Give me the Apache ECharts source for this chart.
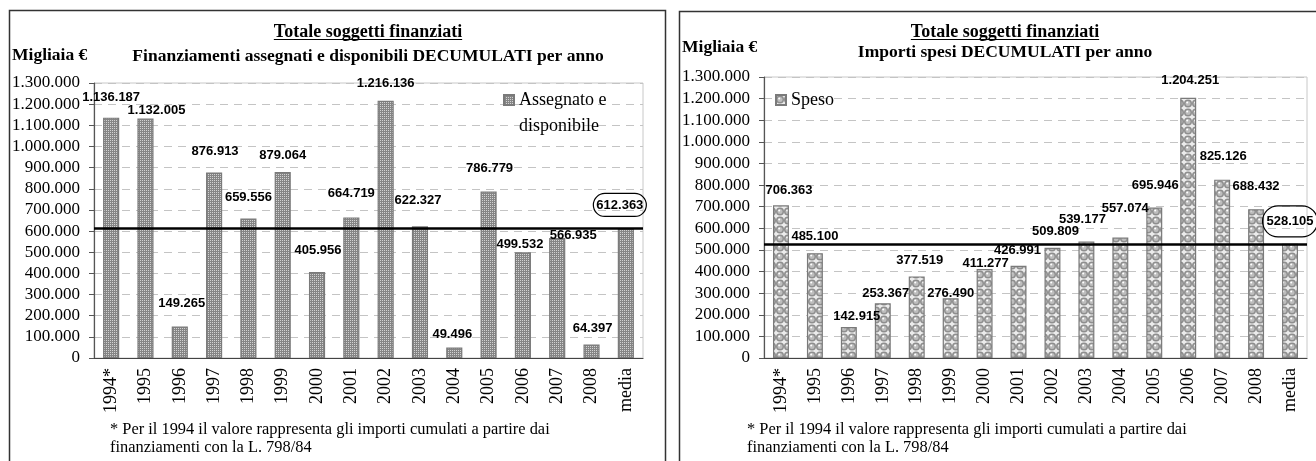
<!DOCTYPE html>
<html>
<head>
<meta charset="utf-8">
<script src="https://cdn.jsdelivr.net/npm/echarts@6/dist/echarts.min.js"></script>
<style>
  html, body { margin: 0; padding: 0; background: #fff; }
  #chart { width: 1316px; height: 461px; }
</style>
</head>
<body>
<div id="chart"></div>
<script>
const categories = ['1994*', '1995', '1996', '1997', '1998', '1999', '2000', '2001', '2002', '2003', '2004', '2005', '2006', '2007', '2008', 'media']
const assegnato = [1136187, 1132005, 149265, 876913, 659556, 879064, 405956, 664719, 1216136, 622327, 49496, 786779, 499532, 566935, 64397, 612363]
const speso = [706363, 485100, 142915, 253367, 377519, 276490, 411277, 426991, 509809, 539177, 557074, 695946, 1204251, 825126, 688432, 528105]
const yMax = 1300000
const yStep = 100000

const serif = "'Liberation Serif', 'Times New Roman', serif"
const sans = "'Liberation Sans', Arial, sans-serif"

// hand-placed data labels, as in the original sheet
const leftNudge = {
  '1995': [11, 12], '1996': [2, -3], '1997': [1, -1], '1998': [0, -1], '1999': [0, 4],
  '2000': [1, -1], '2001': [0, -3], '2002': [0, 3], '2003': [-2, -5], '2004': [-2, 7],
  '2005': [1, -3], '2006': [-3, 13], '2007': [16, 18], '2008': [1, 5], 'media': [-6, 2],
}
const rightNudge = {
  '1994*': [8, 6], '1995': [0, 4], '1996': [8, 10], '1997': [3, 11], '1998': [3, 5],
  '1999': [0, 16], '2000': [1, 15], '2001': [-1, 5], '2002': [3, 4], '2003': [-4, -2],
  '2004': [5, -9], '2005': [1, -2], '2006': [2, 3], '2007': [1, -3], '2008': [0, -2], 'media': [0, 7],
}

function fmt(v) {
  return String(v).replace(/\B(?=(\d{3})+(?!\d))/g, '.')
}

function dotPattern() {
  const c = document.createElement('canvas')
  c.width = 2
  c.height = 2
  const g = c.getContext('2d')
  g.fillStyle = '#858585'
  g.fillRect(0, 0, 2, 2)
  g.fillStyle = '#d2d2d2'
  g.fillRect(0, 0, 1, 1)
  return c
}

function bubblePattern() {
  const c = document.createElement('canvas')
  c.width = 8
  c.height = 9
  const g = c.getContext('2d')
  g.fillStyle = '#ececec'
  g.fillRect(0, 0, 8, 9)
  g.fillStyle = '#8e8e8e'
  g.beginPath(); g.arc(4, 4.5, 4, 0, Math.PI * 2); g.fill()
  g.fillStyle = '#bdbdbd'
  g.beginPath(); g.arc(4, 4.5, 2.5, 0, Math.PI * 2); g.fill()
  g.fillStyle = '#ffffff'
  g.beginPath(); g.arc(3.2, 3.6, 1, 0, Math.PI * 2); g.fill()
  return c
}

function textWidth(font, text) {
  const g = document.createElement('canvas').getContext('2d')
  g.font = font
  return g.measureText(text).width
}

function barData(values, nudge, ring) {
  return values.map((v, i) => {
    const cat = categories[i]
    const label = { offset: nudge[cat] || [0, 0] }
    if (cat === 'media') {
      Object.assign(label, { borderColor: '#000', borderWidth: 1.2, borderRadius: 16, padding: ring })
    }
    return { value: v, label }
  })
}

function xAxis(gridIndex) {
  return {
    type: 'category',
    gridIndex,
    data: categories,
    axisLine: { lineStyle: { color: '#444', width: 1.2 } },
    axisTick: { length: 7, lineStyle: { color: '#444' } },
    axisLabel: { rotate: 90, interval: 0, margin: 10, color: '#000', fontFamily: serif, fontSize: 18 },
  }
}

function yAxis(gridIndex) {
  return {
    type: 'value',
    gridIndex,
    min: 0,
    max: yMax,
    interval: yStep,
    axisLine: { show: true, lineStyle: { color: '#555', width: 1.2 } },
    axisTick: { show: true, length: 5, lineStyle: { color: '#555' } },
    axisLabel: { margin: 14, color: '#000', fontFamily: serif, fontSize: 17, formatter: fmt },
    splitLine: { lineStyle: { color: '#c4c4c4', type: [8, 6] } },
  }
}

function barSeries(name, idx, values, nudge, fill, ring) {
  return {
    name,
    type: 'bar',
    xAxisIndex: idx,
    yAxisIndex: idx,
    barWidth: '47%',
    itemStyle: { color: { image: fill, repeat: 'repeat' }, borderColor: '#7a7a7a', borderWidth: 1.2 },
    label: {
      show: true,
      position: 'top',
      distance: 14,
      color: '#000',
      fontFamily: sans,
      fontWeight: 'bold',
      fontSize: 13,
      formatter: (p) => fmt(p.value),
    },
    markLine: {
      silent: true,
      symbol: 'none',
      label: { show: false },
      lineStyle: { color: '#000', width: 2.5, type: 'solid' },
      data: [{ yAxis: values[values.length - 1] }],
    },
    data: barData(values, nudge, ring),
  }
}

const titleFont = 'bold 18px ' + serif
const subFont = 'bold 17.5px ' + serif
const noteFont = '16.4px ' + serif
const titleText = 'Totale soggetti finanziati'
const titleW = textWidth(titleFont, titleText)

function panelText(cx, sub, migX, migY, subY, noteX) {
  return [
    { type: 'text', left: cx - titleW / 2, top: 23, style: { text: titleText, font: titleFont, fill: '#000' } },
    { type: 'line', shape: { x1: cx - titleW / 2, y1: 39.5, x2: cx + titleW / 2, y2: 39.5 }, style: { stroke: '#000', lineWidth: 1 } },
    { type: 'text', left: cx - textWidth(subFont, sub) / 2, top: subY, style: { text: sub, font: subFont, fill: '#000' } },
    { type: 'text', left: migX, top: migY, style: { text: 'Migliaia €', font: subFont, fill: '#000' } },
    { type: 'text', left: noteX, top: 422, style: { text: '* Per il 1994 il valore rappresenta gli importi cumulati a partire dai', font: noteFont, fill: '#000' } },
    { type: 'text', left: noteX, top: 440, style: { text: 'finanziamenti con la L. 798/84', font: noteFont, fill: '#000' } },
  ]
}

const chart = echarts.init(document.getElementById('chart'))

chart.setOption({
  animation: false,
  grid: [
    { left: 94, top: 83, width: 549, height: 275, show: true, borderColor: '#c8c8c8', borderWidth: 1 },
    { left: 764, top: 77, width: 543, height: 281, show: true, borderColor: '#c8c8c8', borderWidth: 1 },
  ],
  xAxis: [xAxis(0), xAxis(1)],
  yAxis: [yAxis(0), yAxis(1)],
  legend: [
    {
      data: ['Assegnato e disponibile'],
      left: 498,
      top: 56,
      icon: 'rect',
      itemWidth: 10,
      itemHeight: 10,
      formatter: () => '\nAssegnato e\ndisponibile',
      textStyle: { fontFamily: serif, fontSize: 18, lineHeight: 26, color: '#000' },
    },
    {
      data: ['Speso'],
      left: 770,
      top: 86,
      icon: 'rect',
      itemWidth: 10,
      itemHeight: 10,
      textStyle: { fontFamily: serif, fontSize: 18, color: '#000' },
    },
  ],
  series: [
    barSeries('Assegnato e disponibile', 0, assegnato, leftNudge, dotPattern(), [5, 3]),
    barSeries('Speso', 1, speso, rightNudge, bubblePattern(), [9, 4]),
  ],
  graphic: [
    { type: 'rect', shape: { x: 9.5, y: 10.5, width: 656, height: 480 }, style: { fill: 'none', stroke: '#333', lineWidth: 1.5 }, z: -1 },
    { type: 'rect', shape: { x: 679.5, y: 11.5, width: 660, height: 480 }, style: { fill: 'none', stroke: '#333', lineWidth: 1.5 }, z: -1 },
    ...panelText(368, 'Finanziamenti assegnati e disponibili DECUMULATI per anno', 12, 46, 47, 110),
    ...panelText(1005, 'Importi spesi DECUMULATI per anno', 682, 38, 43, 747),
  ],
})
</script>
</body>
</html>
